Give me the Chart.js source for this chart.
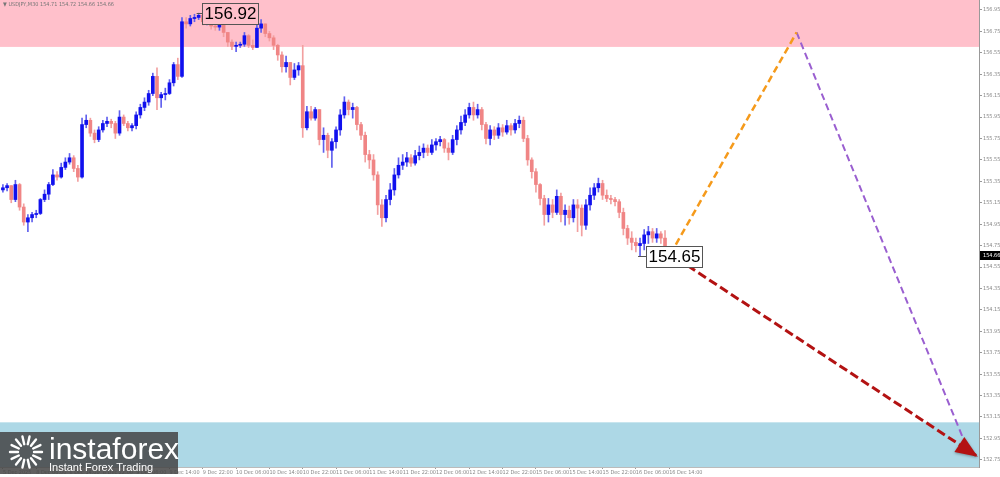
<!DOCTYPE html>
<html>
<head>
<meta charset="utf-8">
<script src="https://cdn.jsdelivr.net/npm/chart.js@4.4.1/dist/chart.umd.min.js"></script>
<style>
    html, body { margin: 0; padding: 0; background: #fff; }
    #wrap { width: 1000px; height: 477px; }
</style>
</head>
<body>
<div id="wrap"><canvas id="chart" width="1000" height="477"></canvas></div>
<script>
// Axis labels
const xLabels = ['5 Dec 2025', '8 Dec 06:00', '8 Dec 14:00', '8 Dec 22:00', '9 Dec 06:00', '9 Dec 14:00',
    '9 Dec 22:00', '10 Dec 06:00', '10 Dec 14:00', '10 Dec 22:00', '11 Dec 06:00', '11 Dec 14:00',
    '11 Dec 22:00', '12 Dec 06:00', '12 Dec 14:00', '12 Dec 22:00', '15 Dec 06:00', '15 Dec 14:00',
    '15 Dec 22:00', '16 Dec 06:00', '16 Dec 14:00'];
const barsPerLabel = 8;
const yTicks = [152.75, 152.95, 153.15, 153.35, 153.55, 153.75, 153.95, 154.15, 154.35, 154.55, 154.75,
    154.95, 155.15, 155.35, 155.55, 155.75, 155.95, 156.15, 156.35, 156.55, 156.75, 156.95];

// USDJPY candles (one per bar index)
const opens = [
    155.27,155.29,155.31,155.18,155.32,155.11,154.97,155.01,155.04,155.05,
    155.18,155.23,155.32,155.41,155.39,155.48,155.53,155.57,155.47,155.39,
    155.88,155.92,155.80,155.74,155.83,155.89,155.91,155.89,155.80,155.95,
    155.89,155.85,155.87,155.97,156.04,156.09,156.17,156.33,156.13,156.16,
    156.17,156.27,156.44,156.33,156.84,156.82,156.87,156.88,156.90,156.84,
    156.86,156.80,156.79,156.90,156.74,156.65,156.61,156.62,156.63,156.71,
    156.62,156.60,156.78,156.82,156.73,156.69,156.62,156.53,156.42,156.46,
    156.32,156.39,156.43,155.85,156.00,155.94,156.02,155.74,155.78,155.64,
    155.72,155.83,155.97,156.09,156.02,156.04,155.88,155.78,155.60,155.55,
    155.41,155.13,155.01,155.18,155.27,155.41,155.50,155.53,155.57,155.52,
    155.59,155.62,155.66,155.62,155.69,155.72,155.74,155.66,155.62,155.74,
    155.83,155.90,155.97,156.04,155.97,156.02,155.88,155.75,155.83,155.78,
    155.85,155.81,155.87,155.83,155.89,155.92,155.75,155.55,155.44,155.32,
    155.19,155.04,155.13,155.06,155.21,155.04,155.08,155.01,155.13,155.10,
    154.94,155.13,155.22,155.29,155.33,155.22,155.19,155.18,155.16,155.06,
    154.91,154.82,154.78,154.75,154.77,154.85,154.88,154.82,154.86,154.82,
    154.71];
const highs = [
    155.32,155.33,155.31,155.36,155.33,155.14,155.04,155.06,155.08,155.19,
    155.27,155.34,155.46,155.44,155.52,155.57,155.61,155.59,155.50,155.94,
    155.97,155.94,155.83,155.86,155.92,155.95,155.93,155.91,156.01,155.97,
    155.91,155.89,156.00,156.07,156.13,156.20,156.36,156.41,156.18,156.22,
    156.30,156.46,156.50,156.88,156.88,156.90,156.91,156.92,156.91,156.88,
    156.88,156.84,156.91,156.90,156.74,156.67,156.65,156.65,156.74,156.72,
    156.67,156.84,156.86,156.82,156.75,156.71,156.63,156.56,156.52,156.46,
    156.45,156.46,156.62,156.05,156.05,156.04,156.02,155.85,155.80,155.75,
    155.86,156.02,156.14,156.11,156.08,156.05,155.90,155.81,155.64,155.60,
    155.44,155.18,155.22,155.33,155.47,155.57,155.60,155.62,155.60,155.64,
    155.68,155.70,155.69,155.74,155.75,155.77,155.75,155.71,155.78,155.87,
    155.96,156.02,156.08,156.09,156.07,156.04,155.90,155.87,155.86,155.89,
    155.88,155.92,155.89,155.93,155.96,155.95,155.78,155.57,155.47,155.33,
    155.22,155.19,155.18,155.27,155.24,155.13,155.12,155.18,155.18,155.13,
    155.18,155.29,155.33,155.38,155.36,155.27,155.22,155.20,155.18,155.10,
    154.94,154.88,154.82,154.82,154.90,154.93,154.91,154.91,154.88,154.89,
    154.72];
const lows = [
    155.25,155.26,155.15,155.16,155.08,154.94,154.88,154.97,155.01,155.04,
    155.16,155.18,155.31,155.36,155.38,155.46,155.51,155.44,155.35,155.38,
    155.85,155.77,155.71,155.72,155.81,155.86,155.85,155.75,155.78,155.87,
    155.82,155.82,155.84,155.94,156.01,156.06,156.15,156.02,156.04,156.11,
    156.16,156.24,156.30,156.32,156.78,156.80,156.84,156.86,156.81,156.81,
    156.77,156.76,156.76,156.70,156.61,156.58,156.56,156.60,156.61,156.60,
    156.58,156.60,156.74,156.70,156.66,156.58,156.48,156.37,156.37,156.25,
    156.30,156.34,155.76,155.83,155.92,155.92,155.69,155.62,155.57,155.48,
    155.66,155.78,155.94,155.97,155.94,155.83,155.74,155.53,155.47,155.36,
    155.04,154.93,154.97,155.13,155.22,155.38,155.46,155.49,155.49,155.50,
    155.55,155.57,155.59,155.60,155.64,155.68,155.62,155.55,155.60,155.69,
    155.79,155.87,155.94,155.92,155.94,155.83,155.70,155.69,155.74,155.75,
    155.77,155.79,155.78,155.80,155.85,155.72,155.50,155.38,155.25,155.13,
    154.94,154.97,155.01,155.04,154.97,154.94,154.95,154.97,154.88,154.84,
    154.90,155.08,155.18,155.25,155.18,155.16,155.14,155.12,155.01,154.85,
    154.76,154.71,154.69,154.65,154.71,154.77,154.78,154.78,154.77,154.69,
    154.66];
const closes = [
    155.29,155.31,155.18,155.32,155.11,154.97,155.01,155.04,155.05,155.18,
    155.23,155.32,155.41,155.39,155.48,155.53,155.57,155.47,155.39,155.88,
    155.92,155.80,155.74,155.83,155.89,155.91,155.89,155.80,155.95,155.89,
    155.85,155.87,155.97,156.04,156.09,156.17,156.33,156.13,156.16,156.17,
    156.27,156.44,156.33,156.84,156.82,156.87,156.88,156.90,156.84,156.86,
    156.80,156.79,156.90,156.74,156.65,156.61,156.62,156.63,156.71,156.62,
    156.60,156.78,156.82,156.73,156.69,156.62,156.53,156.42,156.46,156.32,
    156.39,156.43,155.85,156.00,155.94,156.02,155.74,155.78,155.64,155.72,
    155.83,155.97,156.09,156.02,156.04,155.88,155.78,155.60,155.55,155.41,
    155.13,155.01,155.18,155.27,155.41,155.50,155.53,155.57,155.52,155.59,
    155.62,155.66,155.62,155.69,155.72,155.74,155.66,155.62,155.74,155.83,
    155.90,155.97,156.04,155.97,156.02,155.88,155.75,155.83,155.78,155.85,
    155.81,155.87,155.83,155.89,155.92,155.75,155.55,155.44,155.32,155.19,
    155.04,155.13,155.06,155.21,155.04,155.08,155.01,155.13,155.10,154.94,
    155.13,155.22,155.29,155.33,155.22,155.19,155.18,155.16,155.06,154.91,
    154.82,154.78,154.75,154.77,154.85,154.88,154.82,154.86,154.82,154.71,
    154.66];

// Forecast waves (bar index, price)
const waveUp = [{ x: 161.6, y: 154.76 }, { x: 190.6, y: 156.74 }];
const waveDown = [{ x: 190.6, y: 156.74 }, { x: 230.8, y: 152.93 }];
const mainWave = [{ x: 161.8, y: 154.63 }, { x: 233.7, y: 152.79 }];

// Zones and marked extremes
const resistZone = [156.605, 157.1];
const supportZone = [152.6, 153.10];
const highMark = { x: 47, y: 156.92, text: '156.92' };
const lowMark = { x: 153, y: 154.65, text: '154.65' };
const lastPrice = 154.66;
const header = '\u25BC USDJPY,M30 154.71 154.72 154.66 154.66';

const xRange = [-0.7, 234.4];
const yRange = [152.683, 157.043];

const UP = '#1010ee', DOWN = '#f08585';
const UP_WICK = '#6060ee', DOWN_WICK = '#f2a0a0';
const SMALL = '"Liberation Sans Narrow", "DejaVu Sans Condensed", Arial, sans-serif';

const isUp = i => closes[i] >= opens[i];

const overlay = {
    id: 'overlay',
    beforeDatasetsDraw(chart) {
        const { ctx, chartArea: a, scales: { y } } = chart;
        ctx.save();
        // Zones
        ctx.fillStyle = '#ffc0cb';
        let t = Math.max(y.getPixelForValue(resistZone[1]), a.top);
        ctx.fillRect(a.left, t, a.right - a.left, y.getPixelForValue(resistZone[0]) - t);
        ctx.fillStyle = '#add8e6';
        t = y.getPixelForValue(supportZone[1]);
        ctx.fillRect(a.left, t, a.right - a.left, Math.min(y.getPixelForValue(supportZone[0]), a.bottom) - t);
        ctx.restore();
    },
    afterDatasetsDraw(chart) {
        const { ctx, scales: { x, y } } = chart;
        ctx.save();
        // Arrow head on the main wave
        const pts = chart.getDatasetMeta(2).data;
        const p1 = pts[0], p2 = pts[pts.length - 1];
        const ang = Math.atan2(p2.y - p1.y, p2.x - p1.x);
        ctx.translate(p2.x, p2.y);
        ctx.rotate(ang);
        ctx.fillStyle = '#b31212';
        ctx.shadowColor = 'rgba(0,0,0,0.35)';
        ctx.shadowBlur = 3;
        ctx.shadowOffsetY = 1;
        ctx.beginPath();
        ctx.moveTo(2, 0);
        ctx.lineTo(-20, -9);
        ctx.lineTo(-20, 9);
        ctx.closePath();
        ctx.fill();
        ctx.restore();

        // Extreme price labels
        [[highMark, '#ffc0cb'], [lowMark, '#ffffff']].forEach(([m, bg]) => {
            const px = x.getPixelForValue(m.x);
            const py = y.getPixelForValue(m.y);
            ctx.save();
            ctx.font = '17px "Liberation Sans", Arial, sans-serif';
            const w = ctx.measureText(m.text).width + 4;
            const bx = Math.round(px) + (m === lowMark ? 6 : 3) + 0.5;
            const by = Math.round(py - 10) + 0.5;
            ctx.strokeStyle = '#555';
            ctx.lineWidth = 1;
            ctx.beginPath();
            ctx.moveTo(px - 2, Math.round(py) + 0.5);
            ctx.lineTo(bx, Math.round(py) + 0.5);
            ctx.stroke();
            ctx.fillStyle = bg;
            ctx.fillRect(bx, by, w, 21);
            ctx.strokeRect(bx, by, w, 21);
            ctx.fillStyle = '#000';
            ctx.textBaseline = 'middle';
            ctx.fillText(m.text, bx + 2, by + 11);
            ctx.restore();
        });
    },
    afterDraw(chart) {
        const { ctx, chartArea: a, scales: { y } } = chart;
        ctx.save();
        // Last price tag on the axis
        const py = Math.round(y.getPixelForValue(lastPrice));
        ctx.fillStyle = '#000';
        ctx.fillRect(a.right + 1, py - 4, chart.width - a.right - 1, 9);
        ctx.fillStyle = '#fff';
        ctx.font = '5.5px ' + SMALL;
        ctx.textBaseline = 'middle';
        ctx.fillText(lastPrice.toFixed(2), a.right + 4, py + 0.5);

        // Header
        ctx.fillStyle = '#777';
        ctx.fillText(header, 3, 5);

        // Logo
        const lx = 0, ly = chart.height - 45, lw = 178, lh = 42;
        ctx.fillStyle = 'rgba(68,68,68,0.85)';
        ctx.fillRect(lx, ly, lw, lh);
        const cx = lx + 26, cy = ly + 20;
        ctx.strokeStyle = '#fff';
        ctx.lineWidth = 2.4;
        ctx.lineCap = 'round';
        for (let k = 0; k < 14; k++) {
            const an = k / 14 * Math.PI * 2;
            ctx.beginPath();
            ctx.moveTo(cx + Math.cos(an) * 8, cy + Math.sin(an) * 8);
            ctx.lineTo(cx + Math.cos(an) * 16, cy + Math.sin(an) * 16);
            ctx.stroke();
        }
        ctx.fillStyle = '#fff';
        ctx.textBaseline = 'alphabetic';
        ctx.font = '30px "Liberation Sans", Arial, sans-serif';
        ctx.fillText('instaforex', lx + 49, ly + 27);
        ctx.font = '11px "Liberation Sans", Arial, sans-serif';
        ctx.fillText('Instant Forex Trading', lx + 49, ly + 39);
        ctx.restore();
    }
};

const idx = opens.map((_, i) => i);

new Chart(document.getElementById('chart'), {
    type: 'bar',
    data: {
        datasets: [
            {
                type: 'line', label: 'waveUp', data: waveUp, order: 0,
                borderColor: '#f59a1b', borderWidth: 2.5, borderDash: [7, 4],
                pointRadius: 0, fill: false, tension: 0
            },
            {
                type: 'line', label: 'waveDown', data: waveDown, order: 0,
                borderColor: '#9a5fd0', borderWidth: 2, borderDash: [7, 4],
                pointRadius: 0, fill: false, tension: 0
            },
            {
                type: 'line', label: 'mainWave', data: mainWave, order: 0,
                borderColor: '#b31212', borderWidth: 3, borderDash: [9, 4],
                pointRadius: 0, fill: false, tension: 0
            },
            {
                label: 'bodies', order: 1, grouped: false,
                data: idx.map(i => ({ x: i, y: [opens[i], closes[i]] })),
                backgroundColor: idx.map(i => isUp(i) ? UP : DOWN),
                barThickness: 3, minBarLength: 1, borderWidth: 0
            },
            {
                label: 'wicks', order: 2, grouped: false,
                data: idx.map(i => ({ x: i, y: [lows[i], highs[i]] })),
                backgroundColor: idx.map(i => isUp(i) ? UP_WICK : DOWN_WICK),
                barThickness: 1, borderWidth: 0
            }
        ]
    },
    options: {
        responsive: false,
        animation: false,
        devicePixelRatio: 1,
        layout: { padding: 0 },
        plugins: { legend: { display: false }, tooltip: { enabled: false } },
        scales: {
            x: {
                type: 'linear', min: xRange[0], max: xRange[1], offset: false,
                grid: { display: true, drawOnChartArea: false, tickLength: 2, color: '#999', offset: false },
                border: { display: true, color: '#bbb' },
                afterBuildTicks: s => { s.ticks = xLabels.map((_, k) => ({ value: k * barsPerLabel })); },
                afterFit: s => { s.height = 10; s.paddingLeft = 0; s.paddingRight = 0; },
                ticks: {
                    autoSkip: false, maxRotation: 0, align: 'start', padding: 0,
                    color: '#888', font: { size: 5.5, family: SMALL },
                    callback: v => xLabels[Math.round(v / barsPerLabel)] || ''
                }
            },
            y: {
                position: 'right', min: yRange[0], max: yRange[1],
                grid: { display: true, drawOnChartArea: false, tickLength: 3, color: '#999' },
                border: { display: true, color: '#999' },
                afterBuildTicks: s => { s.ticks = yTicks.map(v => ({ value: v })); },
                afterFit: s => { s.width = 21; s.paddingTop = 0; s.paddingBottom = 0; },
                ticks: {
                    padding: 1, color: '#888',
                    font: { size: 5.5, family: SMALL },
                    callback: v => v.toFixed(2)
                }
            }
        }
    },
    plugins: [overlay]
});
</script>
</body>
</html>
